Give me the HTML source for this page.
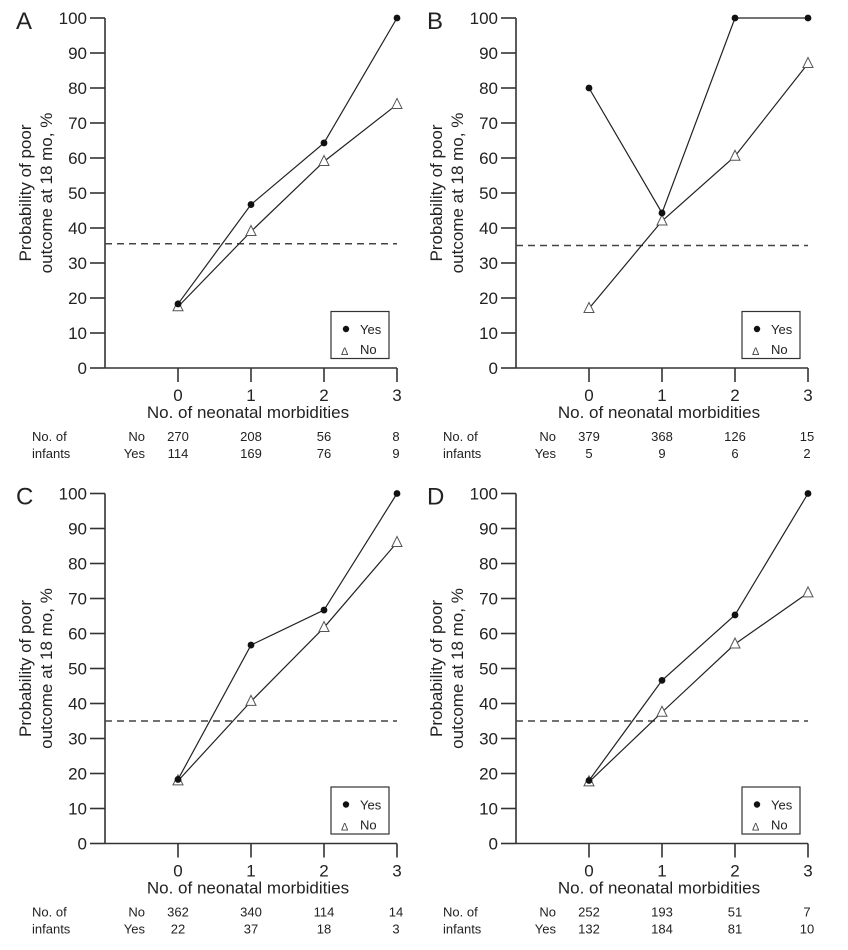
<!DOCTYPE html>
<html><head><meta charset="utf-8">
<style>
html,body{margin:0;padding:0;background:#fff;}
svg{display:block;font-family:"Liberation Sans",Arial,sans-serif;}
</style></head>
<body>
<svg id="fig" width="848" height="950" viewBox="0 0 848 950" xmlns="http://www.w3.org/2000/svg"></svg>
<script>
const categories = [0, 1, 2, 3];
const yTicks = [0, 10, 20, 30, 40, 50, 60, 70, 80, 90, 100];
const panelLabels = ["A", "B", "C", "D"];
const yesA = [18.3, 46.7, 64.3, 100];
const noA = [17.5, 39.0, 59.0, 75.3];
const yesB = [80.0, 44.3, 100, 100];
const noB = [17.0, 42.0, 60.5, 87.0];
const yesC = [18.3, 56.7, 66.7, 100];
const noC = [17.9, 40.6, 61.7, 86.0];
const yesD = [18.0, 46.6, 65.3, 100];
const noD = [17.6, 37.5, 57.0, 71.6];
const thresholds = [35.5, 35.0, 35.0, 35.0];
const infantsNoA = [270, 208, 56, 8];
const infantsYesA = [114, 169, 76, 9];
const infantsNoB = [379, 368, 126, 15];
const infantsYesB = [5, 9, 6, 2];
const infantsNoC = [362, 340, 114, 14];
const infantsYesC = [22, 37, 18, 3];
const infantsNoD = [252, 193, 51, 7];
const infantsYesD = [132, 184, 81, 10];

const yesSeries = [yesA, yesB, yesC, yesD];
const noSeries = [noA, noB, noC, noD];
const nNo = [infantsNoA, infantsNoB, infantsNoC, infantsNoD];
const nYes = [infantsYesA, infantsYesB, infantsYesC, infantsYesD];

const NS = "http://www.w3.org/2000/svg";
const svg = document.getElementById("fig");
function mk(tag, attrs, parent, text) {
  const e = document.createElementNS(NS, tag);
  for (const k in attrs) e.setAttribute(k, attrs[k]);
  if (text !== undefined) e.textContent = text;
  (parent || svg).appendChild(e);
  return e;
}
const origins = [[0, 0], [411, 0], [0, 475.5], [411, 475.5]];
const C = "#333";

origins.forEach((o, p) => {
  const ox = o[0], oy = o[1];
  const axisX = 105 + ox;
  const x0 = 178 + ox, step = 73;
  const yTop = 18 + oy, yBot = 368 + oy;
  const xs = v => x0 + v * step;
  const ys = v => yBot - (yBot - yTop) * v / 100;
  const g = mk("g", {});
  
  

  const lbl = mk("text", {x: 16 + ox, y: 29 + oy, "font-size": 24, fill: "#222"}, g, panelLabels[p]);
  
  

  // y axis
  const ya = mk("line", {x1: axisX, y1: yTop, x2: axisX, y2: yBot, stroke: C, "stroke-width": 1.6}, g);
  
  
  yTicks.forEach(t => {
    mk("line", {x1: axisX - 15, y1: ys(t), x2: axisX, y2: ys(t), stroke: C, "stroke-width": 1.6}, g);
    const tl = mk("text", {x: axisX - 18, y: ys(t) + 6, "font-size": 17, "text-anchor": "end", fill: "#222"}, g, t);
    
    
  });
  // x axis
  const xa = mk("line", {x1: axisX, y1: yBot, x2: xs(3), y2: yBot, stroke: C, "stroke-width": 1.6}, g);
  
  
  categories.forEach(c => {
    mk("line", {x1: xs(c), y1: yBot, x2: xs(c), y2: yBot + 14, stroke: C, "stroke-width": 1.6}, g);
    const tl = mk("text", {x: xs(c), y: yBot + 33, "font-size": 17, "text-anchor": "middle", fill: "#222"}, g, c);
    
    
  });
  const xt = mk("text", {x: 248 + ox, y: yBot + 50, "font-size": 17, "text-anchor": "middle", fill: "#222"}, g, "No. of neonatal morbidities");
  
  
  const cy = 193 + oy;
  const yt = mk("text", {x: 0, y: 0, "font-size": 17, "text-anchor": "middle", fill: "#222", transform: `translate(${31 + ox},${cy}) rotate(-90)`}, g);
  
  
  mk("tspan", {x: 0, y: 0}, yt, "Probability of poor");
  mk("tspan", {x: 0, y: 21}, yt, "outcome at 18 mo, %");

  // threshold
  const th = mk("line", {x1: axisX, y1: ys(thresholds[p]), x2: xs(3), y2: ys(thresholds[p]), stroke: "#444", "stroke-width": 1.4, "stroke-dasharray": "7,5"}, g);
  
  

  // series lines
  const ptsNo = noSeries[p].map((v, i) => xs(categories[i]) + "," + ys(v)).join(" ");
  const ptsYes = yesSeries[p].map((v, i) => xs(categories[i]) + "," + ys(v)).join(" ");
  const ln = mk("polyline", {points: ptsNo, fill: "none", stroke: "#222", "stroke-width": 1.2}, g);
  
  
  const ly = mk("polyline", {points: ptsYes, fill: "none", stroke: "#222", "stroke-width": 1.2}, g);
  
  
  noSeries[p].forEach((v, i) => {
    const x = xs(categories[i]), y = ys(v);
    const tri = mk("polygon", {points: `${x},${y - 6} ${x - 5},${y + 4} ${x + 5},${y + 4}`, fill: "#fff", stroke: "#555", "stroke-width": 1}, g);
    
    
  });
  yesSeries[p].forEach((v, i) => {
    const dot = mk("circle", {cx: xs(categories[i]), cy: ys(v), r: 3.4, fill: "#111"}, g);
    
    
  });

  // legend
  const lg = mk("g", {}, g);
  
  
  mk("rect", {x: 331 + ox, y: 311.5 + oy, width: 58, height: 47, fill: "#fff", stroke: "#333", "stroke-width": 1.2}, lg);
  mk("circle", {cx: 346 + ox, cy: 329 + oy, r: 3.2, fill: "#111"}, lg);
  mk("text", {x: 360 + ox, y: 334 + oy, "font-size": 13, fill: "#222"}, lg, "Yes");
  mk("text", {x: 341 + ox, y: 355 + oy, "font-size": 11, fill: "#444"}, lg, "\u0394");
  mk("text", {x: 360 + ox, y: 354 + oy, "font-size": 13, fill: "#222"}, lg, "No");

  // table
  const tb = mk("g", {"font-size": 13, fill: "#222"}, g);
  
  
  const r1 = yBot + 73, r2 = yBot + 90;
  mk("text", {x: 32 + ox, y: r1}, tb, "No. of");
  mk("text", {x: 32 + ox, y: r2}, tb, "infants");
  mk("text", {x: 145 + ox, y: r1, "text-anchor": "end"}, tb, "No");
  mk("text", {x: 145 + ox, y: r2, "text-anchor": "end"}, tb, "Yes");
  categories.forEach((c, i) => {
    mk("text", {x: xs(c) + (i === 3 ? -1 : 0), y: r1, "text-anchor": "middle"}, tb, nNo[p][i]);
    mk("text", {x: xs(c) + (i === 3 ? -1 : 0), y: r2, "text-anchor": "middle"}, tb, nYes[p][i]);
  });
});
</script>
</body></html>
